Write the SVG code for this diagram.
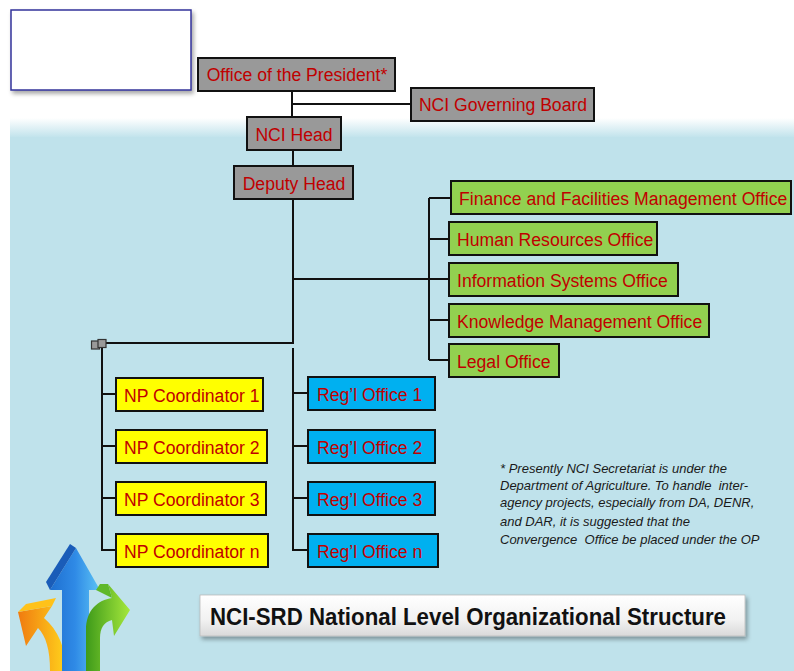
<svg xmlns="http://www.w3.org/2000/svg" width="794" height="671" viewBox="0 0 794 671">
  <defs>
    <linearGradient id="bgFade" x1="0" y1="0" x2="0" y2="1">
      <stop offset="0" stop-color="#ffffff"/>
      <stop offset="1" stop-color="#bfe2eb"/>
    </linearGradient>
    <linearGradient id="titleFill" x1="0" y1="0" x2="0" y2="1">
      <stop offset="0" stop-color="#ffffff"/>
      <stop offset="0.6" stop-color="#f2f2f2"/>
      <stop offset="1" stop-color="#d9d9d9"/>
    </linearGradient>
    <linearGradient id="blueArrow" x1="0" y1="0" x2="1" y2="0">
      <stop offset="0" stop-color="#1e6fd0"/>
      <stop offset="0.5" stop-color="#2f8ae6"/>
      <stop offset="1" stop-color="#5cc3f5"/>
    </linearGradient>
    <linearGradient id="greenArrow" x1="0" y1="0" x2="1" y2="0">
      <stop offset="0" stop-color="#3e9a1a"/>
      <stop offset="1" stop-color="#a6e83c"/>
    </linearGradient>
    <linearGradient id="orangeArrow" x1="0" y1="0" x2="1" y2="0">
      <stop offset="0" stop-color="#f07a10"/>
      <stop offset="1" stop-color="#ffd21c"/>
    </linearGradient>
    <filter id="shadow" x="-10%" y="-20%" width="130%" height="160%">
      <feDropShadow dx="2" dy="3" stdDeviation="2" flood-color="#000" flood-opacity="0.35"/>
    </filter>
  </defs>
  <style>
    .box { stroke: #111; stroke-width: 2; }
    .gray { fill: #999999; }
    .green { fill: #92d050; }
    .yellow { fill: #ffff00; }
    .blue { fill: #00b0f0; }
    .lbl { font-family: "Liberation Sans", Arial, sans-serif; font-size: 17.6px; fill: #c00000; }
    .wire { stroke: #111; stroke-width: 2; fill: none; }
    .note { font-family: "Liberation Sans", Arial, sans-serif; font-size: 13px; font-style: italic; fill: #1a1a1a; white-space: pre; }
    .title { font-family: "Liberation Sans", Arial, sans-serif; font-size: 24px; font-weight: bold; fill: #111; }
  </style>

  <!-- page background -->
  <rect x="0" y="0" width="794" height="671" fill="#ffffff"/>
  <rect x="10" y="118" width="784" height="20" fill="url(#bgFade)"/>
  <rect x="10" y="137" width="784" height="534" fill="#bfe2eb"/>

  <!-- empty frame, top left -->
  <rect x="11" y="10" width="180" height="80" fill="#ffffff" stroke="#33339a" stroke-width="1.5" filter="url(#shadow)"/>

  <!-- connectors -->
  <g id="connectors">
    <path class="wire" d="M292 91 V117"/>
    <path class="wire" d="M292 104 H411"/>
    <path class="wire" d="M293 150 V166"/>
    <path class="wire" d="M293 199 V343 H102"/>
    <path class="wire" d="M293 279 H449"/>
    <path class="wire" d="M429 198 V360"/>
    <path class="wire" d="M429 198 H451"/>
    <path class="wire" d="M429 239 H449"/>
    <path class="wire" d="M429 320 H449"/>
    <path class="wire" d="M429 360 H449"/>
    <path class="wire" d="M102 343 V550 H116"/>
    <path class="wire" d="M102 394 H116"/>
    <path class="wire" d="M102 446 H116"/>
    <path class="wire" d="M102 498 H116"/>
    <path class="wire" d="M293 348 V550 H308"/>
    <path class="wire" d="M293 393 H308"/>
    <path class="wire" d="M293 446 H308"/>
    <path class="wire" d="M293 498 H308"/>
    <rect x="91.5" y="341" width="8" height="8" fill="#999" stroke="#333" stroke-width="1.2"/>
    <rect x="98" y="339.5" width="8" height="8" fill="#999" stroke="#333" stroke-width="1.2"/>
  </g>

  <!-- top of the hierarchy -->
  <g id="office-president">
    <rect class="box gray" x="198" y="58" width="197" height="33"/>
    <text class="lbl" x="297" y="81" text-anchor="middle">Office of the President*</text>
  </g>
  <g id="governing-board">
    <rect class="box gray" x="411" y="88" width="183" height="33"/>
    <text class="lbl" x="503" y="111" text-anchor="middle">NCI Governing Board</text>
  </g>
  <g id="nci-head">
    <rect class="box gray" x="247" y="117" width="94" height="33"/>
    <text class="lbl" x="294" y="141" text-anchor="middle">NCI Head</text>
  </g>
  <g id="deputy-head">
    <rect class="box gray" x="234" y="166" width="119" height="33"/>
    <text class="lbl" x="294" y="190" text-anchor="middle">Deputy Head</text>
  </g>

  <!-- support offices -->
  <g id="finance-office">
    <rect class="box green" x="451" y="181" width="340" height="33"/>
    <text class="lbl" x="459" y="205">Finance and Facilities Management Office</text>
  </g>
  <g id="hr-office">
    <rect class="box green" x="449" y="222" width="208" height="33"/>
    <text class="lbl" x="457" y="246">Human Resources Office</text>
  </g>
  <g id="is-office">
    <rect class="box green" x="449" y="263" width="229" height="33"/>
    <text class="lbl" x="457" y="287">Information Systems Office</text>
  </g>
  <g id="km-office">
    <rect class="box green" x="449" y="304" width="260" height="33"/>
    <text class="lbl" x="457" y="328">Knowledge Management Office</text>
  </g>
  <g id="legal-office">
    <rect class="box green" x="449" y="344" width="110" height="33"/>
    <text class="lbl" x="457" y="368">Legal Office</text>
  </g>

  <!-- NP coordinators -->
  <g id="np-coordinator-1">
    <rect class="box yellow" x="116" y="378" width="147" height="33"/>
    <text class="lbl" x="124" y="402">NP Coordinator 1</text>
  </g>
  <g id="np-coordinator-2">
    <rect class="box yellow" x="116" y="430" width="151" height="33"/>
    <text class="lbl" x="124" y="454">NP Coordinator 2</text>
  </g>
  <g id="np-coordinator-3">
    <rect class="box yellow" x="116" y="482" width="150" height="33"/>
    <text class="lbl" x="124" y="506">NP Coordinator 3</text>
  </g>
  <g id="np-coordinator-n">
    <rect class="box yellow" x="116" y="534" width="152" height="33"/>
    <text class="lbl" x="124" y="558">NP Coordinator n</text>
  </g>

  <!-- regional offices -->
  <g id="regl-office-1">
    <rect class="box blue" x="308" y="377" width="127" height="33"/>
    <text class="lbl" x="317" y="401">Reg’l Office 1</text>
  </g>
  <g id="regl-office-2">
    <rect class="box blue" x="308" y="430" width="127" height="33"/>
    <text class="lbl" x="317" y="454">Reg’l Office 2</text>
  </g>
  <g id="regl-office-3">
    <rect class="box blue" x="308" y="482" width="127" height="33"/>
    <text class="lbl" x="317" y="506">Reg’l Office 3</text>
  </g>
  <g id="regl-office-n">
    <rect class="box blue" x="308" y="534" width="130" height="33"/>
    <text class="lbl" x="317" y="558">Reg’l Office n</text>
  </g>

  <!-- footnote -->
  <g id="footnote">
    <text class="note" x="500" y="473">* Presently NCI Secretariat is under the</text>
    <text class="note" x="500" y="490">Department of Agriculture. To handle  inter-</text>
    <text class="note" x="500" y="507">agency projects, especially from DA, DENR,</text>
    <text class="note" x="500" y="526">and DAR, it is suggested that the</text>
    <text class="note" x="500" y="544">Convergence  Office be placed under the OP</text>
  </g>

  <!-- title banner -->
  <g id="title">
    <rect x="200" y="595" width="545" height="41" fill="url(#titleFill)" stroke="#bbb" stroke-width="0.8" filter="url(#shadow)"/>
    <text class="title" x="210" y="625" textLength="516" lengthAdjust="spacingAndGlyphs">NCI-SRD National Level Organizational Structure</text>
  </g>

  <!-- decorative arrows, bottom left -->
  <g id="arrows-logo">
    <!-- orange arrow curling down to the left -->
    <path d="M50 671 C50 650 46 636 38 628 L26 646 L18 612 L52 606 L44 618 C58 630 66 648 66 671 Z" fill="url(#orangeArrow)"/>
    <path d="M18 612 L26 604 L56 598 L52 606 Z" fill="#ffc21a"/>
    <!-- blue arrow pointing up -->
    <path d="M62 671 L62 590 L50 590 L76 548 L100 590 L89 590 L89 671 Z" fill="url(#blueArrow)"/>
    <path d="M50 590 L46 582 L70 544 L76 548 Z" fill="#1a5cb8"/>
    <!-- green arrow curving up to the right -->
    <path d="M86 671 L86 630 C86 610 98 600 112 598 L108 584 L130 610 L114 636 L112 620 C104 622 100 628 100 638 L100 671 Z" fill="url(#greenArrow)"/>
    <path d="M108 584 L100 584 L96 590 L112 598 Z" fill="#5fb82a"/>
  </g>
</svg>
